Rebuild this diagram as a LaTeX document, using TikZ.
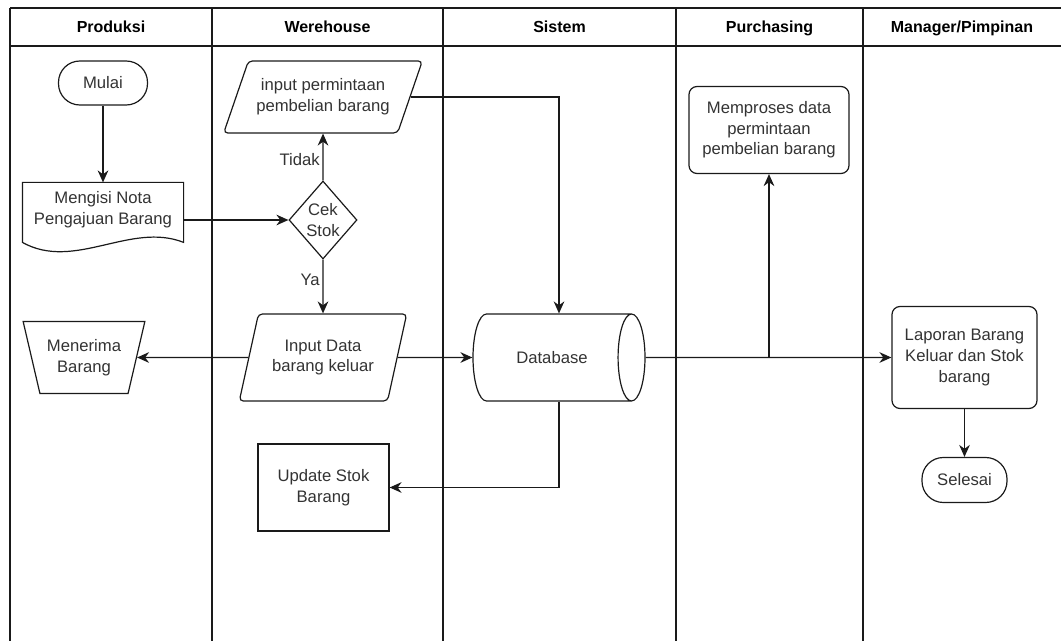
\documentclass[tikz,border=0pt]{standalone}
\usepackage{fontspec}
\setmainfont{Liberation Sans}
\usetikzlibrary{arrows.meta, positioning, calc, shapes.geometric}
\definecolor{inkgray}{HTML}{333333}
\definecolor{linegray}{HTML}{1A1A1A}

\begin{document}
\begin{tikzpicture}[
    x=0.75pt, y=-0.75pt,
    font=\fontsize{12.5}{15.5}\selectfont,
    box/.style={draw=linegray, line width=0.9pt, align=center, text=inkgray, inner sep=0pt},
    terminal/.style={box, rounded corners=16pt, minimum height=33pt},
    process/.style={box, rounded corners=6pt},
    io/.style={box, trapezium, trapezium stretches=true, rounded corners=3pt},
    decision/.style={box, diamond},
    arrow/.style={-{Stealth[length=9pt, width=8pt]}, line width=0.9pt, draw=linegray},
    lane/.style={line width=1pt, draw=linegray},
    head/.style={font=\fontsize{12}{14}\selectfont\bfseries, text=black, anchor=base},
    tag/.style={text=inkgray, inner sep=2pt}
]
\useasboundingbox (0,0) rectangle (1061,641);

% Swimlanes
\draw[lane] (10,8) -- (1061,8);
\draw[lane] (10,46) -- (1061,46);
\foreach \x in {10,212,443,676,863}
    \draw[lane] (\x,8) -- (\x,641);

\foreach \x/\name/\lbl in {111/hprod/Produksi, 327.5/hware/Werehouse, 559.5/hsys/Sistem, 769.5/hpur/Purchasing, 962/hman/{Manager/Pimpinan}}
    \node[head] (\name) at (\x,33) {\lbl};

% Produksi
\node[terminal, minimum width=66.75pt] (mulai) at (103,83) {Mulai};
\node[box, draw=none, minimum width=120pt, minimum height=40.5pt] (nota) at (103,210) {Mengisi Nota\\Pengajuan Barang};
\draw[line width=0.9pt, draw=linegray] (nota.north west) -- (nota.north east) -- ++(0,60)
    .. controls +(-53,-21) and +(52,29) .. ($(nota.north west)+(0,60)$) -- cycle;
\node[box, trapezium, trapezium stretches=true, trapezium left angle=111.3, trapezium right angle=111.3,
    minimum width=91.5pt, minimum height=54pt] (terima) at (84,357.5) {Menerima\\Barang};

% Werehouse
\node[io, trapezium left angle=58.6, trapezium right angle=121.4, minimum width=149.25pt, minimum height=54pt] (perm) at (323,97) {input permintaan\\pembelian barang};
\node[decision, minimum width=51pt, minimum height=58.5pt] (cek) at (323,220) {Cek\\Stok};
\node[io, trapezium left angle=67, trapezium right angle=113, minimum width=126.75pt, minimum height=65.25pt] (inp) at (323,357.5) {Input Data\\barang keluar};
\node[box, minimum width=98.25pt, minimum height=65.25pt] (upd) at (323.5,487.5) {Update Stok\\Barang};

% Sistem
\node[box, cylinder, shape aspect=2.2, minimum width=65.25pt, minimum height=129pt, anchor=shape center] (db) at (559,357.5) {Database};

% Purchasing
\node[process, minimum width=120pt, minimum height=65.25pt] (memp) at (769,130) {Memproses data\\permintaan\\pembelian barang};

% Manager/Pimpinan
\node[process, minimum width=108.75pt, minimum height=76.5pt] (lap) at (964.5,357.5) {Laporan Barang\\Keluar dan Stok\\barang};
\node[terminal, minimum width=63.75pt, minimum height=33.75pt] (selesai) at (964.5,480) {Selesai};

% Alur
\draw[arrow] (mulai.south) -- (nota.north);
\draw[arrow] (cek.west -| nota.east) -- (cek.west);
\draw[arrow] (cek.north) -- node[tag, pos=0.44, left] {Tidak} (perm.south);
\draw[arrow] (cek.south) -- node[tag, pos=0.38, left] {Ya} (inp.north);
\draw[arrow] (inp.west) -- (terima.east);
\draw[arrow] (inp.east) -- (db.west);
\draw[arrow] (perm.east) -| (db.north -| db.shape center);
\draw[arrow] (db.east) -- (lap.west);
\coordinate (split) at (db.east -| memp.south);
\draw[arrow] (split) -- (memp.south);
\draw[arrow] (db.south -| db.shape center) |- (upd.east);
\draw[arrow] (lap.south) -- (selesai.north);

\end{tikzpicture}
\end{document}
